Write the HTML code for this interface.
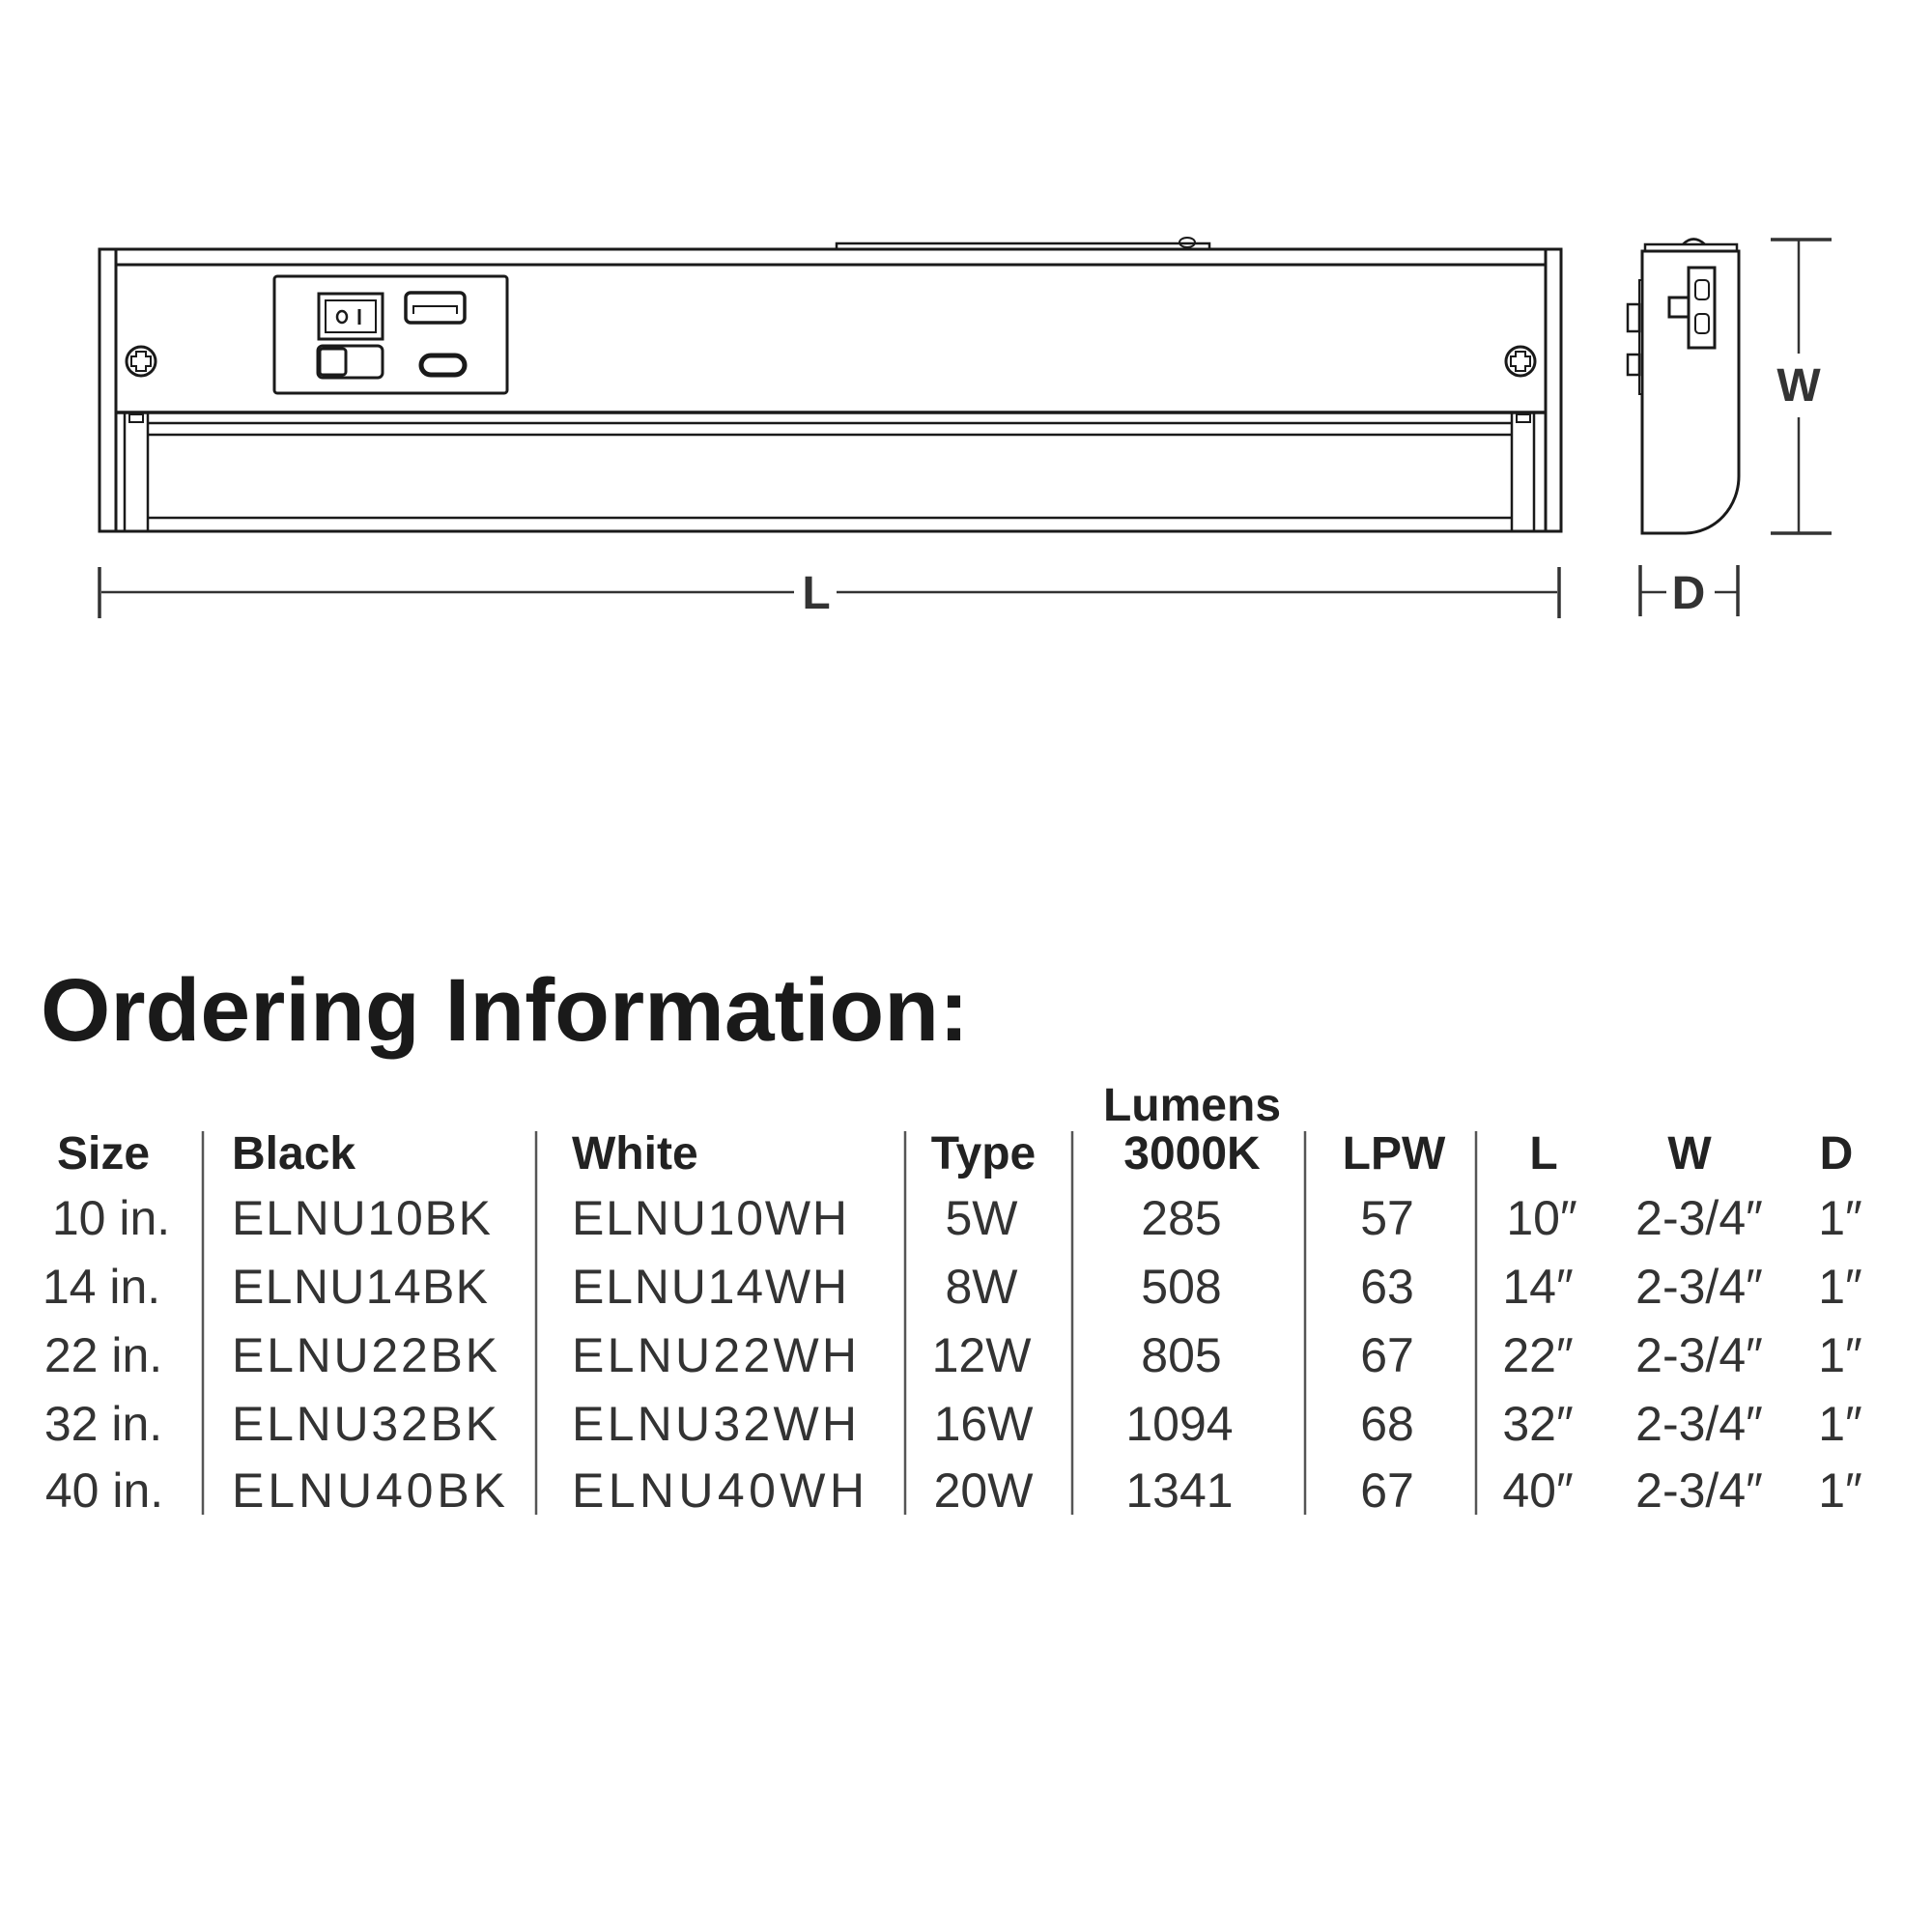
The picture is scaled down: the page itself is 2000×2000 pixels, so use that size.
<!DOCTYPE html>
<html><head><meta charset="utf-8"><style>
html,body{margin:0;padding:0;background:#fff}
svg{display:block}
</style></head><body>
<svg width="2000" height="2000" viewBox="0 0 2000 2000" xmlns="http://www.w3.org/2000/svg">
<g fill="none" stroke="#1a1a1a" stroke-width="3">
  <path d="M866 258 V252 H1252 V258" stroke-width="2.5"/>
  <ellipse cx="1229" cy="251" rx="8" ry="5" stroke-width="2"/>
  <rect x="103" y="258" width="1513" height="292"/>
  <line x1="120" y1="274" x2="1600" y2="274"/>
  <line x1="120" y1="258" x2="120" y2="550"/>
  <line x1="1600" y1="258" x2="1600" y2="550"/>
  <line x1="120" y1="427" x2="1600" y2="427" stroke-width="3.5"/>
  <line x1="153" y1="438" x2="1565" y2="438" stroke-width="2.5"/>
  <line x1="153" y1="450" x2="1565" y2="450" stroke-width="2.5"/>
  <line x1="153" y1="536" x2="1565" y2="536" stroke-width="2.5"/>
  <rect x="129" y="427" width="24" height="123" stroke-width="2.5"/>
  <rect x="1565" y="427" width="23" height="123" stroke-width="2.5"/>
  <rect x="134" y="429" width="14" height="8" stroke-width="2"/>
  <rect x="1570" y="429" width="14" height="8" stroke-width="2"/>
  <rect x="284" y="286" width="241" height="121" rx="3"/>
  <rect x="330" y="304" width="66" height="47"/>
  <rect x="337" y="311" width="52" height="33" stroke-width="2"/>
  <ellipse cx="354" cy="328" rx="5" ry="6" stroke-width="2.5"/>
  <line x1="372" y1="320" x2="372" y2="336" stroke-width="3"/>
  <rect x="420" y="303" width="61" height="31" rx="5" stroke-width="3.5"/>
  <path d="M428 325 V317 H473 V325" stroke-width="2"/>
  <rect x="329" y="358" width="67" height="33" rx="5"/>
  <rect x="331" y="361" width="27" height="27" rx="3" stroke-width="3"/>
  <rect x="436" y="368" width="45" height="20" rx="10" stroke-width="5"/>
  <circle cx="146" cy="374" r="15"/>
  <path d="M141 364 h10 v5 h5 v10 h-5 v5 h-10 v-5 h-5 v-10 h5z" stroke-width="2"/>
  <circle cx="1574" cy="374" r="15"/>
  <path d="M1569 364 h10 v5 h5 v10 h-5 v5 h-10 v-5 h-5 v-10 h5z" stroke-width="2"/>
  <path d="M1703 253 H1798 V260 H1703 Z" stroke-width="2.5"/>
  <path d="M1742 253 Q1753 242 1765 253" stroke-width="2.5"/>
  <path d="M1700 260 H1800 V493 A56 59 0 0 1 1745 552 H1700 Z"/>
  <rect x="1697" y="290" width="3" height="118" stroke-width="2"/>
  <rect x="1685" y="315" width="12" height="28" stroke-width="2.5"/>
  <rect x="1685" y="367" width="12" height="21" stroke-width="2.5"/>
  <rect x="1748" y="277" width="27" height="83" stroke-width="3"/>
  <rect x="1755" y="290" width="14" height="20" rx="4" stroke-width="2"/>
  <rect x="1755" y="325" width="14" height="20" rx="4" stroke-width="2"/>
  <rect x="1728" y="308" width="20" height="20" stroke-width="3"/>
</g>
<g stroke="#333" fill="none">
  <line x1="103" y1="587" x2="103" y2="640" stroke-width="3.5"/>
  <line x1="1614" y1="587" x2="1614" y2="640" stroke-width="3.5"/>
  <line x1="105" y1="613" x2="822" y2="613" stroke-width="2.5"/>
  <line x1="866" y1="613" x2="1612" y2="613" stroke-width="2.5"/>
  <line x1="1698" y1="585" x2="1698" y2="638" stroke-width="3.5"/>
  <line x1="1799" y1="585" x2="1799" y2="638" stroke-width="3.5"/>
  <line x1="1698" y1="613" x2="1725" y2="613" stroke-width="2.5"/>
  <line x1="1775" y1="613" x2="1799" y2="613" stroke-width="2.5"/>
  <line x1="1833" y1="248" x2="1896" y2="248" stroke-width="3.5"/>
  <line x1="1833" y1="552" x2="1896" y2="552" stroke-width="3.5"/>
  <line x1="1862" y1="248" x2="1862" y2="366" stroke-width="2.5"/>
  <line x1="1862" y1="432" x2="1862" y2="552" stroke-width="2.5"/>
</g>
<g font-family="Liberation Sans, sans-serif" font-weight="bold" fill="#333" text-anchor="middle" font-size="48">
  <text x="845" y="630">L</text>
  <text x="1748" y="630">D</text>
  <text x="1862" y="415">W</text>
</g>
<text x="42" y="1077" font-family="Liberation Sans, sans-serif" font-weight="bold" font-size="92" fill="#1a1a1a" textLength="961" lengthAdjust="spacingAndGlyphs">Ordering Information:</text>
<g stroke="#555" stroke-width="2.5">
  <line x1="210" y1="1171" x2="210" y2="1568"/>
  <line x1="555" y1="1171" x2="555" y2="1568"/>
  <line x1="937" y1="1171" x2="937" y2="1568"/>
  <line x1="1110" y1="1171" x2="1110" y2="1568"/>
  <line x1="1351" y1="1171" x2="1351" y2="1568"/>
  <line x1="1528" y1="1171" x2="1528" y2="1568"/>
</g>
<g font-family="Liberation Sans, sans-serif" font-weight="bold" font-size="48" fill="#222" text-anchor="middle">
  <text x="1234" y="1160">Lumens</text>
  <text x="107" y="1210">Size</text>
  <text x="240" y="1210" text-anchor="start">Black</text>
  <text x="592" y="1210" text-anchor="start">White</text>
  <text x="1018" y="1210">Type</text>
  <text x="1234" y="1210">3000K</text>
  <text x="1443" y="1210">LPW</text>
  <text x="1598" y="1210">L</text>
  <text x="1749" y="1210">W</text>
  <text x="1901" y="1210">D</text>
</g>
<g font-family="Liberation Sans, sans-serif" font-size="50" fill="#333">
  <g text-anchor="middle">
    <text x="115" y="1278">10 in.</text>
    <text x="105" y="1349">14 in.</text>
    <text x="107" y="1420">22 in.</text>
    <text x="107" y="1491">32 in.</text>
    <text x="108" y="1560">40 in.</text>
  </g>
  <g lengthAdjust="spacingAndGlyphs">
    <text x="240" y="1278" textLength="268">ELNU10BK</text>
    <text x="240" y="1349" textLength="265">ELNU14BK</text>
    <text x="240" y="1420" textLength="275">ELNU22BK</text>
    <text x="240" y="1491" textLength="275">ELNU32BK</text>
    <text x="240" y="1560" textLength="283">ELNU40BK</text>
    <text x="592" y="1278" textLength="285">ELNU10WH</text>
    <text x="592" y="1349" textLength="285">ELNU14WH</text>
    <text x="592" y="1420" textLength="295">ELNU22WH</text>
    <text x="592" y="1491" textLength="295">ELNU32WH</text>
    <text x="592" y="1560" textLength="303">ELNU40WH</text>
  </g>
  <g text-anchor="middle">
    <text x="1016" y="1278">5W</text>
    <text x="1016" y="1349">8W</text>
    <text x="1016" y="1420">12W</text>
    <text x="1018" y="1491">16W</text>
    <text x="1018" y="1560">20W</text>
    <text x="1223" y="1278">285</text>
    <text x="1223" y="1349">508</text>
    <text x="1223" y="1420">805</text>
    <text x="1221" y="1491">1094</text>
    <text x="1221" y="1560">1341</text>
    <text x="1436" y="1278">57</text>
    <text x="1436" y="1349">63</text>
    <text x="1436" y="1420">67</text>
    <text x="1436" y="1491">68</text>
    <text x="1436" y="1560">67</text>
    <text x="1596" y="1278">10″</text>
    <text x="1592" y="1349">14″</text>
    <text x="1592" y="1420">22″</text>
    <text x="1592" y="1491">32″</text>
    <text x="1592" y="1560">40″</text>
    <text x="1759" y="1278">2-3/4″</text>
    <text x="1759" y="1349">2-3/4″</text>
    <text x="1759" y="1420">2-3/4″</text>
    <text x="1759" y="1491">2-3/4″</text>
    <text x="1759" y="1560">2-3/4″</text>
    <text x="1905" y="1278">1″</text>
    <text x="1905" y="1349">1″</text>
    <text x="1905" y="1420">1″</text>
    <text x="1905" y="1491">1″</text>
    <text x="1905" y="1560">1″</text>
  </g>
</g>
</svg>
</body></html>
